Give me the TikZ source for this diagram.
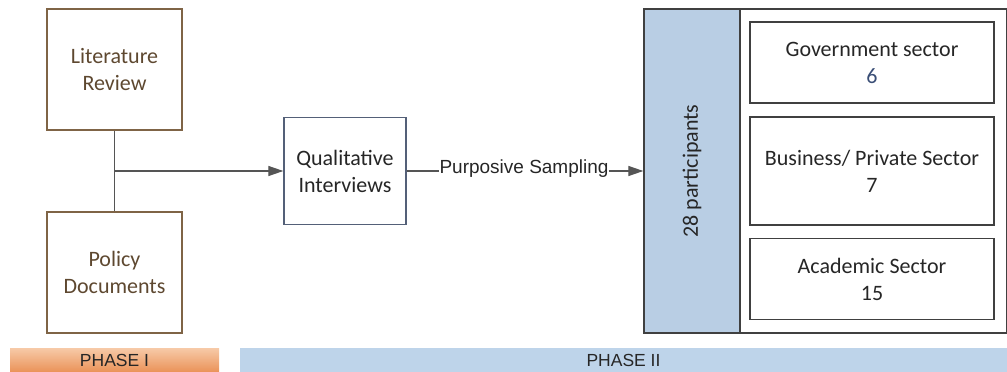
\documentclass[tikz,border=0pt]{standalone}
\usepackage{fontspec}
\setmainfont{Carlito}
\newfontfamily\arialfont{Liberation Sans}
\usetikzlibrary{arrows.meta,positioning}
\definecolor{litcol}{RGB}{127,100,70}
\definecolor{littext}{RGB}{94,72,48}
\definecolor{qualcol}{RGB}{84,96,120}
\definecolor{linecol}{RGB}{85,85,85}
\definecolor{partcol}{RGB}{185,206,228}
\definecolor{phaseblue}{RGB}{190,212,234}
\definecolor{phasetop}{RGB}{247,202,168}
\definecolor{phasebot}{RGB}{234,146,88}
\definecolor{numcol}{RGB}{58,78,118}
\tikzset{
  % source box (phase I)
  srcbox/.style={rectangle, draw=litcol, line width=1.3pt, minimum width=135pt, minimum height=121pt,
                 align=center, text=littext, font=\fontsize{22}{27}\selectfont},
  % interview box
  qbox/.style={rectangle, draw=qualcol, line width=1.3pt, minimum width=122pt, minimum height=107pt,
               align=center, text=black!85, font=\fontsize{22}{27}\selectfont},
  % sector box
  secbox/.style={rectangle, draw=black!75, line width=1.3pt, minimum width=244pt, minimum height=#1,
                 align=center, text=black!85, font=\fontsize{22}{27}\selectfont},
  secbox/.default={81pt},
  % connector
  conn/.style={draw=linecol, line width=1.2pt},
  % connector with arrow
  arr/.style={conn, -{Triangle[length=15pt,width=10pt]}},
  % phase bar
  phasebar/.style={rectangle, minimum height=24pt, inner sep=0pt, text=black!85,
                   font=\arialfont\fontsize{17.5}{20}\selectfont},
}
\begin{document}
\begin{tikzpicture}[x=1pt,y=-1pt]
  \useasboundingbox (0,0) rectangle (1007,372);

  % Phase I sources
  \node[srcbox] (lit) at (114.5,69.5) {Literature\\Review};
  \node[srcbox] (pol) at (114.5,272.5) {Policy\\Documents};
  \coordinate (join) at (114.5,171);
  \draw[conn] (lit) -- (join) -- (pol);

  % interviews
  \node[qbox] (qual) at (345,171) {Qualitative\\Interviews};
  \draw[arr] (join) -- (qual);

  % participants frame
  \node[draw=black!75, line width=1.3pt, minimum width=362pt, minimum height=324pt, inner sep=0pt]
    (frame) at (825.5,171) {};
  \node[draw=black!75, fill=partcol, line width=1.3pt, minimum width=96pt, minimum height=324pt, inner sep=0pt]
    (part) at (692,171) {};
  \node[rotate=90, text=black!85, font=\fontsize{22}{27}\selectfont] at (part.center) {28 participants};

  % sampling
  \node[anchor=mid, inner sep=0pt, text=black!85, font=\arialfont\fontsize{19}{22}\selectfont]
    (samp) at (524,171) {Purposive Sampling};
  \draw[conn] (qual) -- (samp.mid west);
  \draw[arr] (samp.mid east) -- (part);

  % sectors
  \node[secbox] (gov) at (872,62.5) {Government sector\\\textcolor{numcol}{6}};
  \node[secbox=108pt] (bus) at (872,171) {Business/ Private Sector\\7};
  \node[secbox] (acad) at (872,279) {Academic Sector\\15};

  % phases
  \node[phasebar, top color=phasetop, bottom color=phasebot, minimum width=209pt] (ph1) at (114.5,360) {PHASE I};
  \node[phasebar, fill=phaseblue, minimum width=768pt] (ph2) at (623.5,360) {PHASE II};
\end{tikzpicture}
\end{document}
